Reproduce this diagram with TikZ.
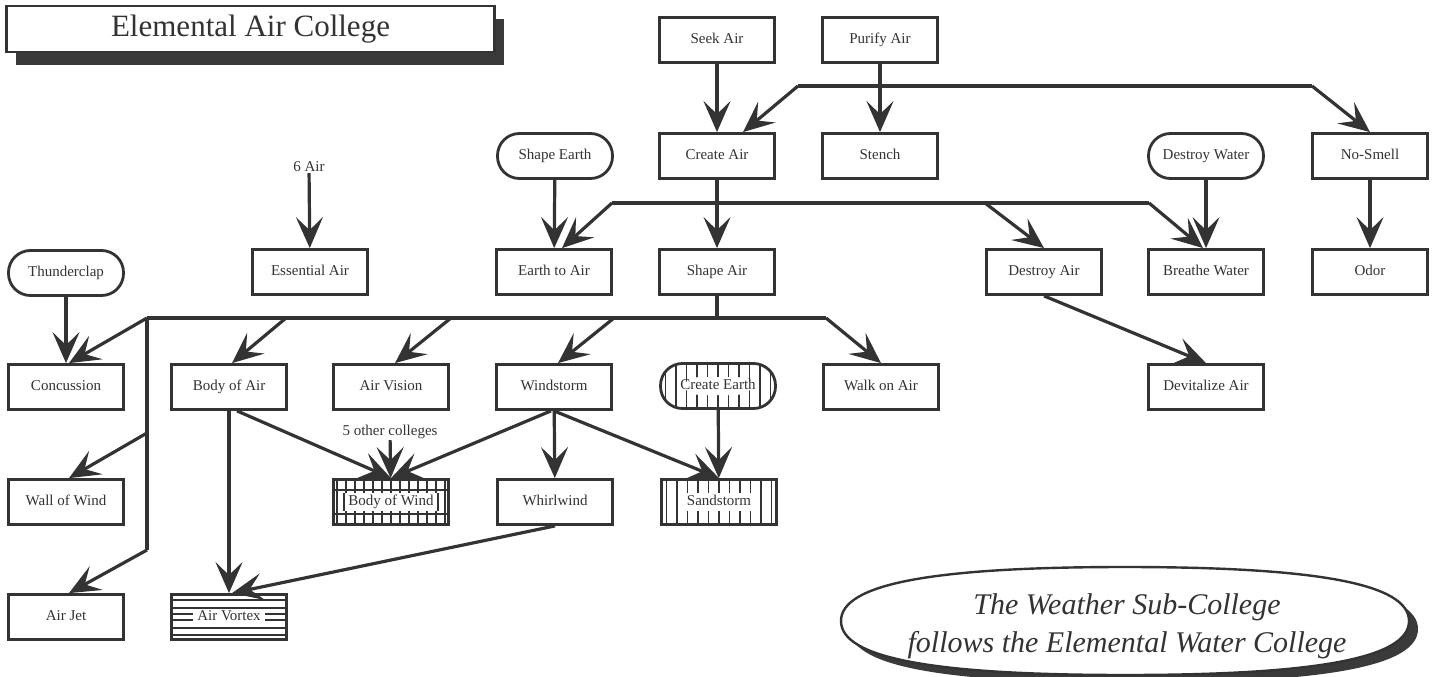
\documentclass[tikz,border=0pt]{standalone}
\usepackage{fontspec}
\setmainfont{Liberation Serif}
\usetikzlibrary{arrows.meta,shapes.geometric,calc,shadows}
\definecolor{ink}{HTML}{333333}
\definecolor{shadowgray}{HTML}{3A3A3A}
\tikzset{
  box/.style={draw=ink, line width=2.8pt, minimum width=115pt, minimum height=45pt,
    inner sep=0pt, text height=10.5pt, text depth=3.5pt, text=ink, fill=white,
    font=\fontsize{15}{17}\selectfont},
  rbox/.style={box, rounded corners=22pt},
  con/.style={draw=ink, line width=3.2pt, -{Stealth[length=31pt,width=27pt,inset=13pt]}},
  wire/.style={draw=ink, line width=3.2pt},
  lbl/.style={text=ink, inner sep=1pt, font=\fontsize{15}{17}\selectfont},
  hatch/.style={draw=ink, line width=1.3pt},
  gridfill/.style={path picture={
      \foreach \k in {-6,...,6}
        \draw[hatch] ($(path picture bounding box.center)+(\k*9,-30)$) -- ++(0,60);
      \draw[hatch] ($(path picture bounding box.center)+(-70,-12)$) -- ++(140,0);
      \draw[hatch] ($(path picture bounding box.center)+(-70,12)$) -- ++(140,0);
      \fill[white] ($(path picture bounding box.center)+(-47,-9)$) rectangle ($(path picture bounding box.center)+(47,9)$);
      \draw[hatch] ($(path picture bounding box.center)+(-47,-9)$) -- ++(0,18);
      \draw[hatch] ($(path picture bounding box.center)+(47,-9)$) -- ++(0,18);
  }},
  vfill/.style={path picture={
      \foreach \k in {-5,...,5}
        \draw[hatch] ($(path picture bounding box.center)+(\k*10.5,-30)$) -- ++(0,60);
      \fill[white] ($(path picture bounding box.center)+(-40,-9)$) rectangle ($(path picture bounding box.center)+(40,9)$);
  }},
  hfill/.style={path picture={
      \foreach \k in {-17,-9,-3,3,11,18}
        \draw[hatch] ($(path picture bounding box.center)+(-70,\k)$) -- ++(140,0);
      \fill[white] ($(path picture bounding box.center)+(-36,-7)$) rectangle ($(path picture bounding box.center)+(36,7)$);
  }},
  ovalpath/.style={},
}
\begin{document}
\begin{tikzpicture}[x=1pt,y=-1pt]
\useasboundingbox (0,0) rectangle (1438,677);

% title
\node[draw=ink, line width=2.8pt, fill=white, minimum width=488pt, minimum height=46pt,
  text=ink, font=\fontsize{31}{34}\selectfont,
  drop shadow={shadow xshift=9pt, shadow yshift=-13pt, fill=shadowgray, opacity=1}]
  (title) at (250.5,29) {Elemental Air College};

% row 1
\node[box] (seek) at (717,40) {Seek Air};
\node[box] (purify) at (880,40) {Purify Air};
% row 2
\node[rbox] (shapeearth) at (555,156) {Shape Earth};
\node[box] (create) at (717,156) {Create Air};
\node[box] (stench) at (880,156) {Stench};
\node[rbox] (destroywater) at (1206,156) {Destroy Water};
\node[box] (nosmell) at (1370,156) {No-Smell};
\node[lbl] (sixair) at (309,167) {6 Air};
% row 3
\node[rbox] (thunder) at (66,273) {Thunderclap};
\node[box] (essential) at (310,272) {Essential Air};
\node[box] (earthtoair) at (554,272) {Earth to Air};
\node[box] (shapeair) at (717,272) {Shape Air};
\node[box] (destroyair) at (1044,272) {Destroy Air};
\node[box] (breathe) at (1206,272) {Breathe Water};
\node[box] (odor) at (1370,272) {Odor};
% row 4
\node[box] (concussion) at (66,387) {Concussion};
\node[box] (bodyair) at (229,387) {Body of Air};
\node[box] (airvision) at (391,387) {Air Vision};
\node[box] (windstorm) at (554,387) {Windstorm};
\node[rbox, vfill] (createearth) at (718,386) {Create Earth};
\node[box] (walkonair) at (881,387) {Walk on Air};
\node[box] (devitalize) at (1206,387) {Devitalize Air};
% row 5
\node[lbl] (fivecol) at (390,432) {5 other colleges};
\node[box] (wallwind) at (66,502) {Wall of Wind};
\node[box, gridfill] (bodywind) at (391,502) {Body of Wind};
\node[box] (whirlwind) at (555,502) {Whirlwind};
\node[box, vfill] (sandstorm) at (719,502) {Sandstorm};
% row 6
\node[box] (airjet) at (66,617) {Air Jet};
\node[box, hfill] (airvortex) at (229,617) {Air Vortex};

% note oval (flattened ellipse) with shadow
\begin{scope}[shift={(9,8)}]
\fill[shadowgray] (841,621) .. controls (841,584) and (932,567) .. (1125,567)
  .. controls (1318,567) and (1409,584) .. (1409,621)
  .. controls (1409,658) and (1318,675) .. (1125,675)
  .. controls (932,675) and (841,658) .. (841,621) -- cycle;
\end{scope}
\draw[ink, line width=2.4pt, fill=white] (841,621) .. controls (841,584) and (932,567) .. (1125,567)
  .. controls (1318,567) and (1409,584) .. (1409,621)
  .. controls (1409,658) and (1318,675) .. (1125,675)
  .. controls (932,675) and (841,658) .. (841,621) -- cycle;
\node[text=ink, align=center, inner sep=0pt, font=\itshape\fontsize{30}{38}\selectfont]
  (note) at (1127,626) {The Weather Sub-College\\follows the Elemental Water College};

% junction coordinates
\coordinate (j1) at (798,86);
\coordinate (j2) at (1312,86);
\coordinate (k1) at (612,203);
\coordinate (k3) at (985,203);
\coordinate (k2) at (1149,203);
\coordinate (m0) at (717,318);
\coordinate (m1) at (147,318);
\coordinate (m2) at (826,318);
\coordinate (m4) at (147,433);
\coordinate (m3) at (147,550);
\coordinate (b1) at (286,318);
\coordinate (b2) at (451,318);
\coordinate (b3) at (614,318);

% top connectors
\draw[con] (seek) -- (create);
\draw[con] (purify) -- (stench);
\draw[wire] (j1) -- (j2);
\draw[con] (j1) -- ($(create.north)+(26,0)$);
\draw[con] (j2) -- (nosmell.north);

\draw[con] (create) -- (shapeair);
\draw[wire] (k1) -- (k2);
\draw[con] (k1) -- ($(earthtoair.north)+(8,0)$);
\draw[con] (k3) -- (destroyair.north);
\draw[con] (k2) -- ($(breathe.north)+(-3,0)$);
\draw[con] (shapeearth) -- (earthtoair);
\draw[con] (destroywater) -- (breathe);
\draw[con] (nosmell) -- (odor);
\draw[con] (sixair) -- (essential);

% shape air fan-out
\draw[wire] (shapeair.south) -- (m0);
\draw[wire] (m1) -- (m2);
\draw[wire] (m1) -- (m3);
\draw[con] (m1) -- ($(concussion.north)+(3,0)$);
\draw[con] (thunder) -- (concussion);
\draw[con] (b1) -- ($(bodyair.north)+(3,0)$);
\draw[con] (b2) -- ($(airvision.north)+(4,0)$);
\draw[con] (b3) -- ($(windstorm.north)+(4,0)$);
\draw[con] (m2) -- (walkonair.north);
\draw[con] (m4) -- ($(wallwind.north)+(3,0)$);
\draw[con] (m3) -- ($(airjet.north)+(3,0)$);

% lower connectors
\draw[con] (bodyair) -- (airvortex);
\draw[con] ($(bodyair.south)+(8,0)$) -- (bodywind.north);
\draw[con] (fivecol) -- (bodywind);
\draw[con] ($(windstorm.south)+(-3,0)$) -- (bodywind.north);
\draw[con] (windstorm) -- (whirlwind);
\draw[con] (windstorm.south) -- (sandstorm.north);
\draw[con] (createearth) -- (sandstorm);
\draw[con] (whirlwind.south) -- ($(airvortex.north)+(3,0)$);
\draw[con] (destroyair.south) -- (devitalize.north);
\end{tikzpicture}
\end{document}
